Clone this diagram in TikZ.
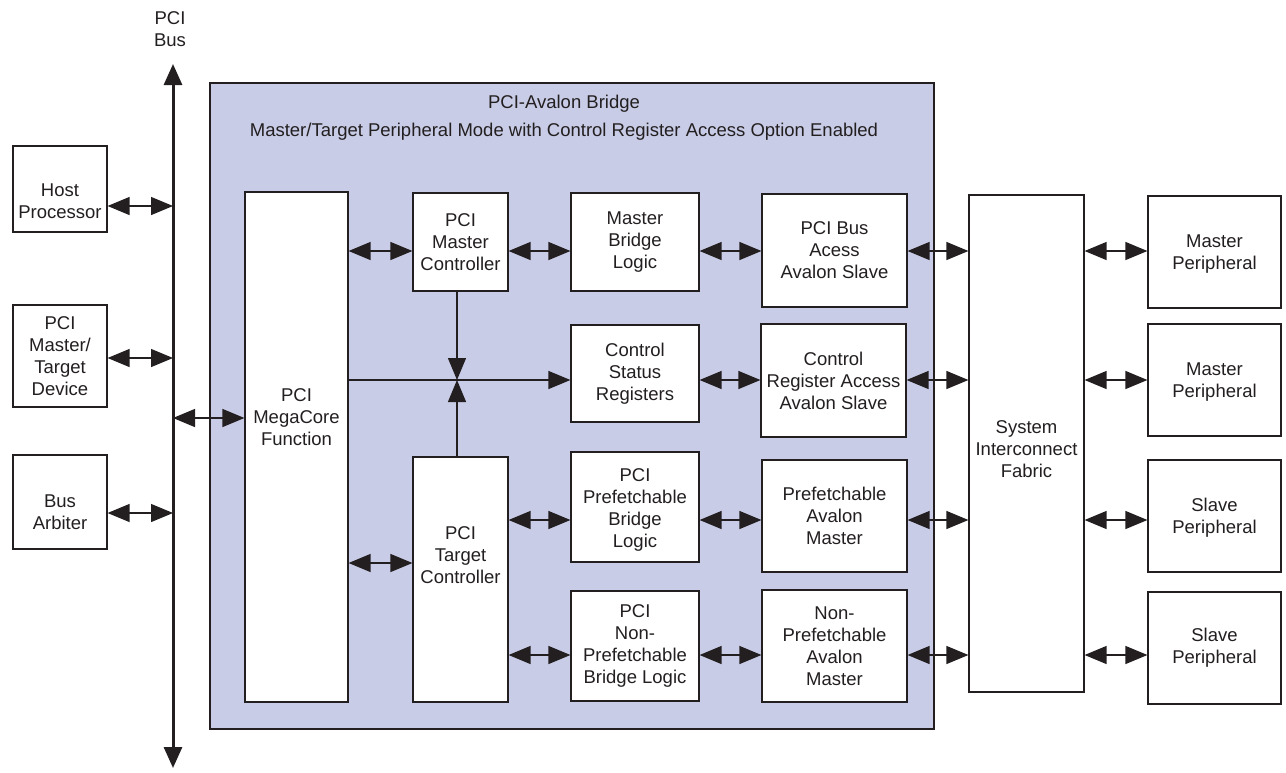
\documentclass[tikz,border=0pt]{standalone}
\usepackage{fontspec}
\setmainfont{Liberation Sans}
\usetikzlibrary{arrows.meta,fit}
\definecolor{ink}{HTML}{231F20}
\definecolor{bridgefill}{HTML}{C8CCE6}
\tikzset{
 box/.style={draw=ink, line width=1.2pt, fill=white, inner sep=0pt},
 txt/.style={text=ink, align=center, font=\fontsize{18.5}{22}\selectfont, inner sep=0pt},
 dbl/.style={draw=ink, line width=1.3pt, {Triangle[length=22pt,width=18pt]}-{Triangle[length=22pt,width=18pt]}},
 sgl/.style={draw=ink, line width=1.3pt, -{Triangle[length=22pt,width=18pt]}},
 busline/.style={draw=ink, line width=3pt, {Triangle[length=21pt,width=18pt]}-{Triangle[length=21pt,width=18pt]}},
}
\newcommand\blk[7]{%
 \coordinate (#1-nw) at (#2,#3);
 \coordinate (#1-se) at (#4,#5);
 \node[box, fit=(#1-nw)(#1-se)] (#1) {};
 \node[txt, yshift=#6pt] (#1-t) at (#1) {#7};
}
\begin{document}
\begin{tikzpicture}[x=1pt,y=-1pt]
\useasboundingbox (0,0) rectangle (1286,772);
% bridge
\coordinate (br-nw) at (210,83);
\coordinate (br-se) at (934,729);
\node[draw=ink, fill=bridgefill, line width=1.2pt, inner sep=0pt, fit=(br-nw)(br-se)] (bridge) {};
\node[txt] (title1) at (564,104) {PCI-Avalon Bridge};
\node[txt] (title2) at (564,132) {Master/Target Peripheral Mode with Control Register Access Option Enabled};
\node[txt] (buslbl) at (170,29.5) {PCI\\Bus};
% blocks
\blk{host}{13}{146}{107}{232}{-12}{Host\\Processor}
\blk{pmt}{13}{305}{107}{407}{0}{PCI\\Master/\\Target\\Device}
\blk{arb}{13}{455}{107}{549}{-10}{Bus\\Arbiter}
\blk{mc}{245}{192}{348}{702}{29.5}{PCI\\MegaCore\\Function}
\blk{mctrl}{413}{193}{508}{291}{0}{PCI\\Master\\Controller}
\blk{mbl}{571}{193}{699}{291}{0}{Master\\Bridge\\Logic}
\blk{pbas}{762}{194}{907}{307}{0}{PCI Bus\\Acess\\Avalon Slave}
\blk{csr}{571}{325}{699}{422}{0}{Control\\Status\\Registers}
\blk{cras}{761}{324}{906}{437}{0}{Control\\Register Access\\Avalon Slave}
\blk{tctrl}{413}{457}{508}{702}{24.5}{PCI\\Target\\Controller}
\blk{ppbl}{571}{452}{699}{562}{-3}{PCI\\Prefetchable\\Bridge\\Logic}
\blk{npbl}{571}{591}{699}{701}{0}{PCI\\Non-\\Prefetchable\\Bridge Logic}
\blk{pam}{762}{460}{907}{572}{0}{Prefetchable\\Avalon\\Master}
\blk{npam}{762}{590}{907}{702}{0}{Non-\\Prefetchable\\Avalon\\Master}
\blk{fab}{969}{195}{1084}{692}{-6}{System\\Interconnect\\Fabric}
\blk{mp1}{1148}{196}{1281}{308}{-2}{Master\\Peripheral}
\blk{mp2}{1148}{324}{1281}{436}{-2}{Master\\Peripheral}
\blk{sp1}{1148}{460}{1281}{572}{-2}{Slave\\Peripheral}
\blk{sp2}{1148}{592}{1281}{704}{0}{Slave\\Peripheral}
% helper coordinates
\coordinate (busx) at (173,0);
\coordinate (bustop) at (173,64);
\coordinate (busbot) at (173,768);
\coordinate (jx) at (457,0);
\coordinate (rh) at (0,206);
\coordinate (rp) at (0,358);
\coordinate (ra) at (0,513);
\coordinate (rm) at (0,418);
\coordinate (rt) at (0,563);
\coordinate (r1) at (0,251);
\coordinate (r2) at (0,380);
\coordinate (r3) at (0,520);
\coordinate (r4) at (0,655);
% bus
\draw[busline] (busbot) -- (bustop);
% left connectors
\draw[dbl] (host.east |- rh) -- (busx |- rh);
\draw[dbl] (pmt.east |- rp) -- (busx |- rp);
\draw[dbl] (arb.east |- ra) -- (busx |- ra);
\draw[dbl] (busx |- rm) -- (mc.west |- rm);
% row 1
\draw[dbl] (mc.east |- r1) -- (mctrl.west |- r1);
\draw[dbl] (mctrl.east |- r1) -- (mbl.west |- r1);
\draw[dbl] (mbl.east |- r1) -- (pbas.west |- r1);
\draw[dbl] (pbas.east |- r1) -- (fab.west |- r1);
\draw[dbl] (fab.east |- r1) -- (mp1.west |- r1);
% row 2
\draw[sgl] (mc.east |- r2) -- (csr.west |- r2);
\draw[sgl] (mctrl.south -| jx) -- (jx |- r2);
\draw[sgl] (tctrl.north -| jx) -- (jx |- r2);
\draw[dbl] (csr.east |- r2) -- (cras.west |- r2);
\draw[dbl] (cras.east |- r2) -- (fab.west |- r2);
\draw[dbl] (fab.east |- r2) -- (mp2.west |- r2);
% row 3
\draw[dbl] (mc.east |- rt) -- (tctrl.west |- rt);
\draw[dbl] (tctrl.east |- r3) -- (ppbl.west |- r3);
\draw[dbl] (ppbl.east |- r3) -- (pam.west |- r3);
\draw[dbl] (pam.east |- r3) -- (fab.west |- r3);
\draw[dbl] (fab.east |- r3) -- (sp1.west |- r3);
% row 4
\draw[dbl] (tctrl.east |- r4) -- (npbl.west |- r4);
\draw[dbl] (npbl.east |- r4) -- (npam.west |- r4);
\draw[dbl] (npam.east |- r4) -- (fab.west |- r4);
\draw[dbl] (fab.east |- r4) -- (sp2.west |- r4);
\end{tikzpicture}
\end{document}
